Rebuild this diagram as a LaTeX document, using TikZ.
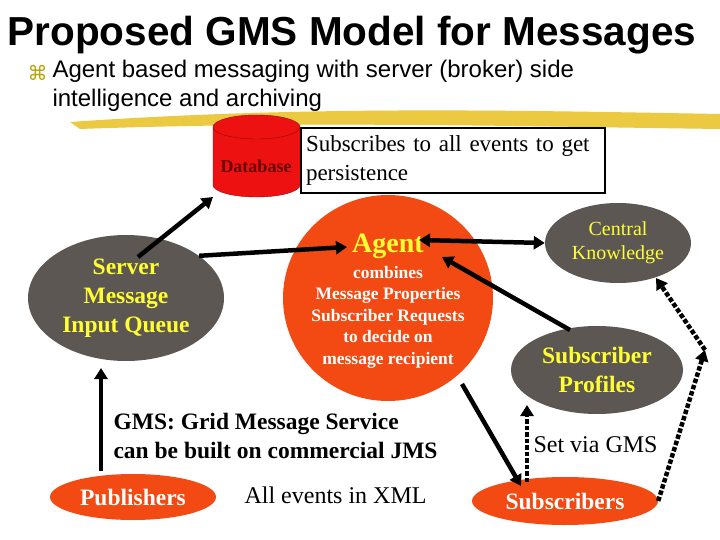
\documentclass[tikz,border=0pt]{standalone}
\usepackage{fontspec}
\setmainfont{Liberation Serif}
\newfontfamily\arialfont{Liberation Sans}
\newfontfamily\symfont{DejaVu Sans}
\usetikzlibrary{shapes.geometric,arrows.meta}
\definecolor{grayblob}{HTML}{5C5752}
\definecolor{redblob}{HTML}{F24A12}
\definecolor{dbred}{HTML}{EE1111}
\definecolor{txtyellow}{HTML}{FFFF33}
\definecolor{brush}{HTML}{E8C020}
\definecolor{bulletc}{HTML}{B8A400}
\tikzset{
  blob/.style={ellipse, inner sep=0pt, align=center, font=\bfseries},
  grayblob/.style={blob, fill=grayblob, text=txtyellow},
  redblob/.style={blob, fill=redblob, text=white},
  thick arrow/.style={line width=4.5pt, -{Triangle[length=11pt,width=13pt]}},
  dot arrow/.style={line width=4.5pt, dotted, -{Triangle[length=11pt,width=13pt]}},
}
\begin{document}
\begin{tikzpicture}[x=1pt,y=-1pt]
  \useasboundingbox[fill=white] (0,0) rectangle (720,540);
  % title and bullet
  \node[anchor=west, font=\arialfont\bfseries\fontsize{40.5}{44}\selectfont] (title) at (4,35) {Proposed GMS Model for Messages};
  \node[anchor=west, text=bulletc, font=\symfont\fontsize{20}{22}\selectfont] (bullet) at (24,73) {⌘};
  \node[anchor=north west, align=left, font=\arialfont\fontsize{24}{29}\selectfont] (intro) at (49,57)
    {Agent based messaging with server (broker) side\\intelligence and archiving};
  \fill[brush, opacity=0.85] (70,122) .. controls (300,106) and (500,110) .. (720,114)
    -- (720,129) .. controls (500,126) and (300,121) .. (80,129) -- cycle;
  % database and note
  \fill[dbred, draw=dbred!60!black] (213,127) -- (213,185) arc[start angle=180, end angle=0, x radius=43.5, y radius=12]
    -- (300,127) arc[start angle=0, end angle=-180, x radius=43.5, y radius=12] -- cycle;
  \draw[dbred!60!black] (213,127) arc[start angle=180, end angle=0, x radius=43.5, y radius=12];
  \coordinate (db) at (213,197);
  \node[text=red!40!black, font=\bfseries\fontsize{18}{20}\selectfont] (dblabel) at (256,166) {Database};
  \node[draw, line width=2pt, fill=white, anchor=north west, minimum width=304pt, minimum height=65pt,
        align=left, font=\fontsize{23}{29}\selectfont, inner sep=5pt, text width=294pt] (note) at (300,127)
    {Subscribes to all events to get\\persistence};
  % blobs
  \node[grayblob, minimum width=196pt, minimum height=126pt, font=\bfseries\fontsize{23.5}{29}\selectfont] (queue) at (126,298)
    {Server\\Message\\Input Queue};
  \node[redblob, minimum width=210pt, minimum height=206pt] (agent) at (388,298) {};
  \node[text=txtyellow, font=\bfseries\fontsize{28}{30}\selectfont] (agentname) at (388,246) {Agent};
  \node[text=white, align=center, font=\bfseries\fontsize{17.5}{21.5}\selectfont] (agenttext) at (388,317)
    {combines\\Message Properties\\Subscriber Requests\\to decide on\\message recipient};
  \node[grayblob, minimum width=146pt, minimum height=80pt, font=\fontsize{20}{24}\selectfont] (central) at (618,243)
    {Central\\Knowledge};
  \node[grayblob, minimum width=172pt, minimum height=88pt, font=\bfseries\fontsize{23.5}{29}\selectfont] (profiles) at (597,370)
    {Subscriber\\Profiles};
  \node[redblob, minimum width=166pt, minimum height=46pt, font=\bfseries\fontsize{23.5}{24}\selectfont] (pubs) at (133,497) {Publishers};
  \node[redblob, minimum width=186pt, minimum height=48pt, font=\bfseries\fontsize{23.5}{24}\selectfont] (subs) at (565,501) {Subscribers};
  % free texts
  \node[anchor=west, align=left, font=\bfseries\fontsize{23.5}{29}\selectfont] (gms) at (110,436)
    {GMS: Grid Message Service\\can be built on commercial JMS};
  \node[anchor=west, font=\fontsize{24}{26}\selectfont] (xml) at (241,495) {All events in XML};
  \node[anchor=west, font=\fontsize{24}{26}\selectfont] (setvia) at (530,445) {Set via GMS};
  \coordinate (turn) at (705,350);
  % connectors
  \draw[thick arrow] (pubs.north -| 101,0) ++(0,-3) -- (101,368);
  \draw[thick arrow] (138,257) -- (db);
  \draw[thick arrow] (queue.30) -- (347,247);
  \draw[thick arrow, {Triangle[length=11pt,width=13pt]}-{Triangle[length=11pt,width=13pt]}] (419,240) -- (central.west);
  \draw[thick arrow] (570,330) -- (442,257);
  \draw[thick arrow] (462,384) -- (521,486);
  \draw[dot arrow] (527,482) -- (527,405);
  \draw[dot arrow] (subs.east) -- (turn);
  \draw[dot arrow] (turn) -- (656,278);
\end{tikzpicture}
\end{document}
